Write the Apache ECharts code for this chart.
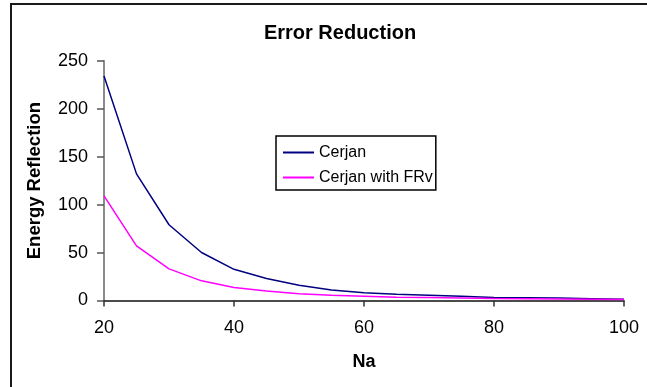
<!DOCTYPE html>
<html>
<head>
<meta charset="utf-8">
<title>Error Reduction</title>
<script src="https://cdn.jsdelivr.net/npm/echarts@6/dist/echarts.min.js"></script>
<style>
  html, body { margin: 0; padding: 0; background: #ffffff; }
  #chart { width: 647px; height: 387px; }
</style>
</head>
<body>
<div id="chart"></div>
<script>
// Absorbing-layer size Na and the resulting reflected energy
var na = [20, 25, 30, 35, 40, 45, 50, 55, 60, 65, 70, 75, 80, 85, 90, 95, 100];
var cerjan = [234, 132, 79, 50, 32.5, 23, 16, 11, 8, 6.5, 5.5, 4.5, 3, 2.8, 2.5, 1.8, 1.2];
var cerjanFRv = [109, 57, 33, 20.5, 13.5, 10, 7, 5.5, 4.5, 3.5, 3, 2.5, 2, 1.8, 1.5, 1.2, 1];
var seriesNames = ['Cerjan', 'Cerjan with FRv'];
var seriesColors = ['#000080', '#ff00ff'];

var FONT = '"Liberation Sans", Arial, sans-serif';

function pairs(xs, ys) {
  return xs.map(function (x, i) { return [x, ys[i]]; });
}

var chart = echarts.init(document.getElementById('chart'), null, { renderer: 'canvas' });

chart.setOption({
  animation: false,
  backgroundColor: '#ffffff',
  title: {
    text: 'Error Reduction',
    left: 335,
    top: 18,
    textAlign: 'center',
    textStyle: { fontFamily: FONT, fontSize: 20, fontWeight: 'bold', color: '#000' }
  },
  graphic: [{
    type: 'rect',
    shape: { x: 11, y: 4, width: 700, height: 500 },
    style: { fill: 'none', stroke: '#1a1a1a', lineWidth: 2 },
    silent: true
  }],
  legend: {
    orient: 'vertical',
    left: 276,
    top: 136,
    padding: [7, 3, 3, 7],
    itemGap: 6,
    itemWidth: 31,
    itemHeight: 2,
    icon: 'rect',
    borderColor: '#000',
    borderWidth: 1.5,
    backgroundColor: '#ffffff',
    textStyle: { fontFamily: FONT, fontSize: 16, color: '#000', lineHeight: 19 },
    data: seriesNames
  },
  grid: { left: 104, right: 23, top: 60.7, bottom: 86.5, containLabel: false },
  xAxis: {
    type: 'value',
    min: 20,
    max: 100,
    interval: 20,
    name: 'Na',
    nameLocation: 'middle',
    nameGap: 53,
    nameTextStyle: { fontFamily: FONT, fontSize: 18, fontWeight: 'bold', color: '#000' },
    axisLine: { onZero: false, lineStyle: { color: '#111', width: 1.5 } },
    axisTick: { show: true, inside: false, length: 6, lineStyle: { color: '#333', width: 1.5 } },
    axisLabel: { fontFamily: FONT, fontSize: 18, color: '#000', margin: 19 },
    splitLine: { show: false }
  },
  yAxis: {
    type: 'value',
    min: 0,
    max: 250,
    interval: 50,
    name: 'Energy Reflection',
    nameLocation: 'middle',
    nameGap: 60,
    nameRotate: 90,
    nameTextStyle: { fontFamily: FONT, fontSize: 18.5, fontWeight: 'bold', color: '#000' },
    axisLine: { show: true, lineStyle: { color: '#666', width: 1.5 } },
    axisTick: { show: true, inside: false, length: 7, lineStyle: { color: '#555', width: 1.5 } },
    axisLabel: { fontFamily: FONT, fontSize: 18, color: '#000', margin: 16 },
    splitLine: { show: false }
  },
  series: [
    {
      name: seriesNames[0],
      type: 'line',
      data: pairs(na, cerjan),
      symbol: 'none',
      color: seriesColors[0],
      lineStyle: { color: seriesColors[0], width: 1.5 },
      z: 2
    },
    {
      name: seriesNames[1],
      type: 'line',
      data: pairs(na, cerjanFRv),
      symbol: 'none',
      color: seriesColors[1],
      lineStyle: { color: seriesColors[1], width: 1.5 },
      z: 3
    }
  ]
});
</script>
</body>
</html>
